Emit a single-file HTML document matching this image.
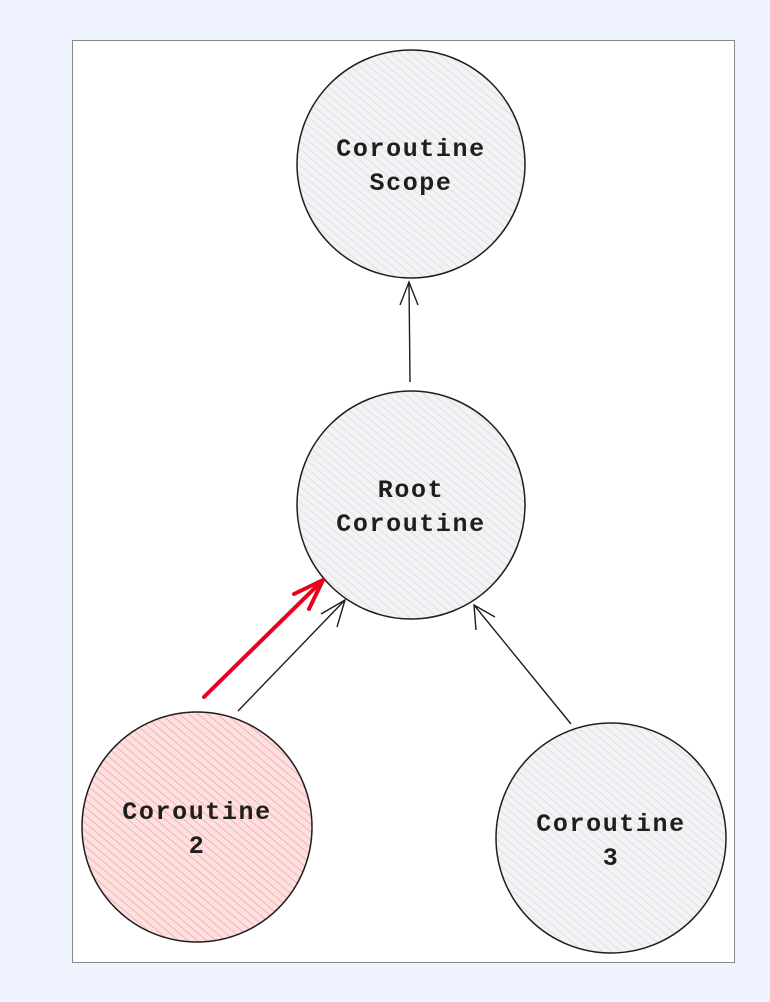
<!DOCTYPE html>
<html><head><style>
body{margin:0;background:#eef3fe;width:770px;height:1002px;overflow:hidden}
svg{display:block}
text{font-family:"Liberation Mono",monospace;font-weight:bold;font-size:25px;letter-spacing:1.6px;fill:#1e1e1e;text-anchor:middle}
</style></head><body>
<svg width="770" height="1002" viewBox="0 0 770 1002">
<defs>
<pattern id="h" width="6" height="6" patternUnits="userSpaceOnUse" patternTransform="rotate(-50)">
<rect width="6" height="6" fill="#f2f3f5"/><line x1="0" y1="0" x2="0" y2="6" stroke="#d2d4d8" stroke-width="1.2"/></pattern>
<pattern id="p" width="6" height="6" patternUnits="userSpaceOnUse" patternTransform="rotate(-50)">
<rect width="6" height="6" fill="#fde0e0"/><line x1="0" y1="0" x2="0" y2="6" stroke="#f49a9a" stroke-width="1.3"/></pattern>
</defs>
<rect x="72.5" y="40.5" width="662" height="922" fill="#fff" stroke="#888" stroke-width="1"/>
<circle cx="411" cy="164" r="114" fill="url(#h)" stroke="#1e1e1e" stroke-width="1.5"/>
<circle cx="411" cy="505" r="114" fill="url(#h)" stroke="#1e1e1e" stroke-width="1.5"/>
<circle cx="197" cy="827" r="115" fill="url(#p)" stroke="#1e1e1e" stroke-width="1.5"/>
<circle cx="611" cy="838" r="115" fill="url(#h)" stroke="#1e1e1e" stroke-width="1.5"/>
<g stroke="#1e1e1e" stroke-width="1.4" fill="none">
<path d="M410 382 L409 282 M400 305 L409 282 L418 305"/>
<path d="M238 711 L345 600 M321 614 L345 600 L337 627"/>
<path d="M571 724 L474 605 M476 630 L474 605 L495 617"/>
</g>
<g stroke="#e8001c" stroke-width="4" fill="none" stroke-linecap="round" stroke-linejoin="round">
<path d="M204 697 L323 580 M294 594 L323 580 L309 609"/>
</g>
<text x="411" y="156">Coroutine</text><text x="411" y="190">Scope</text>
<text x="411" y="497">Root</text><text x="411" y="531">Coroutine</text>
<text x="197" y="819">Coroutine</text><text x="197" y="853">2</text>
<text x="611" y="831">Coroutine</text><text x="611" y="865">3</text>
</svg>
</body></html>
